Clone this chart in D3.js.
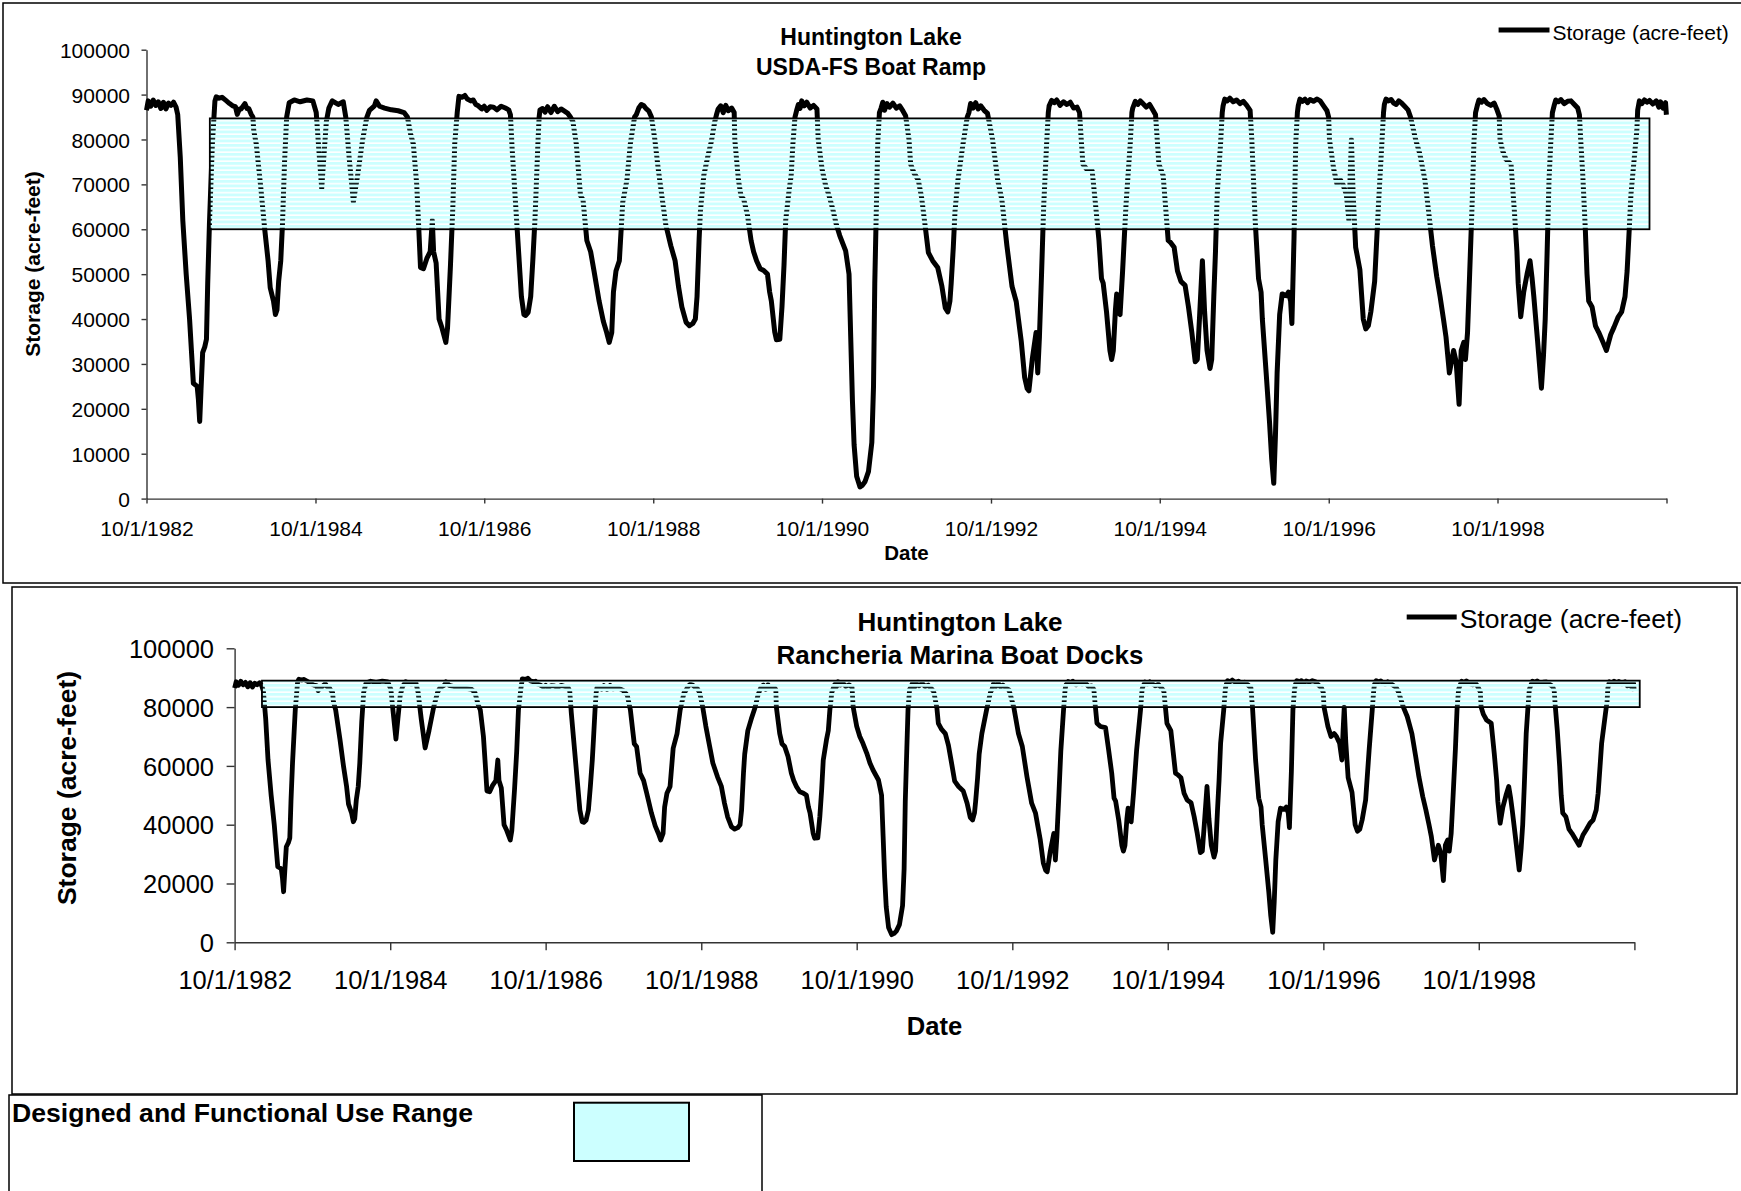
<!DOCTYPE html>
<html>
<head>
<meta charset="utf-8">
<script src="https://cdn.jsdelivr.net/npm/d3@7.9.0/dist/d3.min.js"></script>
<style>
  body { margin: 0; background: #fff; }
  svg { display: block; font-family: "Liberation Sans", Arial, sans-serif; }
</style>
</head>
<body>
<svg id="chart" width="1741" height="1191"></svg>
<script>
// Data: [years after 10/1/1982, storage in thousand acre-feet]

const wy1983 = [
  [0.000, 86.5], [0.02, 88.6], [0.05, 87.4], [0.08, 88.8], [0.11, 87.6], [0.14, 88.4], [0.17, 86.9],
  [0.20, 88.3], [0.23, 86.8], [0.26, 88.1], [0.29, 87.6], [0.32, 88.3], [0.35, 87.2], [0.37, 85.5],
  [0.40, 76], [0.43, 62], [0.47, 50], [0.51, 40], [0.535, 32], [0.555, 25.7], [0.60, 25], [0.615, 22],
  [0.63, 17.2], [0.645, 24], [0.665, 32.5], [0.69, 33.8], [0.71, 35.5], [0.725, 48], [0.745, 61],
  [0.78, 79], [0.81, 88.5]
];
const wy1984 = [
  [0.826, 89.5], [0.86, 89.2], [0.894, 89.4], [0.94, 88.7], [0.984, 88], [1.02, 87.5], [1.053, 87.3],
  [1.075, 85.6], [1.10, 86.8], [1.12, 86.8], [1.165, 88], [1.19, 86.9], [1.211, 86.9], [1.24, 85.6],
  [1.26, 85.0], [1.27, 82], [1.30, 79], [1.355, 69], [1.40, 60], [1.44, 53], [1.465, 47], [1.505, 43.9],
  [1.527, 41], [1.545, 42], [1.565, 48.4], [1.59, 53], [1.61, 61], [1.635, 75], [1.66, 85]
];
const wy1985 = [
  [1.69, 88.2], [1.75, 88.8], [1.82, 88.4], [1.90, 88.8], [1.97, 88.6], [2.01, 86], [2.04, 78],
  [2.075, 69.1], [2.10, 76], [2.13, 84], [2.16, 87], [2.20, 88.6], [2.27, 87.8], [2.33, 88.4],
  [2.36, 85], [2.40, 76], [2.45, 66.1], [2.50, 72], [2.56, 80], [2.61, 85], [2.64, 86.5], [2.70, 87.5],
  [2.72, 88.6], [2.76, 87.4], [2.82, 87], [2.90, 86.6], [2.98, 86.4], [3.05, 86], [3.09, 85]
];
const wy1986 = [
  [3.13, 81], [3.16, 79], [3.20, 70], [3.225, 60], [3.245, 51.5], [3.28, 51.2], [3.32, 53.5], [3.36, 55],
  [3.385, 62], [3.40, 55], [3.43, 52.5], [3.465, 40], [3.50, 38], [3.545, 34.8], [3.565, 38], [3.58, 44],
  [3.60, 52], [3.628, 65], [3.65, 79], [3.68, 86]
];
const wy1987 = [
  [3.70, 89.6], [3.74, 89.4], [3.77, 89.8], [3.80, 89], [3.84, 88.6], [3.87, 88.8], [3.90, 87.8],
  [3.93, 87.5], [3.97, 86.8], [4.00, 87.4], [4.03, 86.5], [4.07, 87.3], [4.11, 87.2], [4.15, 86.6],
  [4.20, 87.4], [4.25, 87], [4.29, 86.6], [4.31, 85.5], [4.33, 78], [4.36, 69], [4.40, 57], [4.44, 45],
  [4.47, 41], [4.49, 40.8], [4.52, 41.5], [4.55, 45], [4.575, 53], [4.60, 62], [4.615, 69], [4.635, 79],
  [4.65, 85]
];
const wy1988 = [
  [4.66, 86.6], [4.69, 86.9], [4.72, 86.1], [4.75, 87.3], [4.79, 86], [4.83, 87.4], [4.87, 86.2],
  [4.91, 86.8], [4.95, 86.3], [4.99, 85.8], [5.02, 85], [5.05, 84], [5.09, 79], [5.12, 72], [5.14, 67.5],
  [5.17, 66.5], [5.215, 57.5], [5.26, 55], [5.30, 50.7], [5.36, 44], [5.41, 39.5], [5.45, 37], [5.48, 34.8],
  [5.51, 37], [5.53, 46], [5.56, 50.7], [5.60, 53], [5.64, 66], [5.69, 71], [5.73, 79], [5.78, 85]
];
const wy1989 = [
  [5.80, 85.5], [5.83, 87], [5.86, 87.8], [5.89, 87.5], [5.92, 86.8], [5.95, 86.3], [5.98, 85],
  [6.02, 80], [6.06, 73.5], [6.11, 66.5], [6.15, 61], [6.21, 56.3], [6.26, 53], [6.30, 47.3], [6.34, 42.7],
  [6.39, 39.3], [6.43, 38.5], [6.47, 39], [6.50, 40], [6.52, 45], [6.545, 58], [6.56, 64], [6.60, 72],
  [6.645, 76], [6.69, 79.6], [6.73, 84], [6.75, 85.5]
];
const wy1990 = [
  [6.77, 86.8], [6.80, 87.5], [6.83, 86], [6.86, 87.6], [6.89, 86.4], [6.93, 87], [6.96, 86], [6.967, 80],
  [7.01, 71], [7.04, 67.5], [7.074, 66.6], [7.117, 63.2], [7.16, 57.5], [7.19, 55], [7.225, 53], [7.268, 51.2],
  [7.31, 50.8], [7.354, 50], [7.38, 46], [7.40, 44], [7.44, 37.1], [7.46, 35.4], [7.50, 35.5], [7.526, 42.7],
  [7.55, 52], [7.57, 62], [7.611, 68.8], [7.635, 72], [7.655, 79], [7.68, 85]
];
const wy1991 = [
  [7.70, 86.5], [7.72, 87.8], [7.74, 86.9], [7.76, 88.6], [7.79, 87.5], [7.82, 88.3], [7.86, 87],
  [7.90, 87.6], [7.94, 86.8], [7.955, 80], [8.00, 73.5], [8.04, 70], [8.08, 67.7], [8.13, 64.3], [8.17, 61],
  [8.21, 58.6], [8.28, 55.2], [8.32, 50], [8.34, 36], [8.36, 22], [8.38, 12], [8.41, 5], [8.45, 2.6],
  [8.48, 3], [8.51, 3.8], [8.55, 6], [8.59, 12.5], [8.61, 25], [8.625, 48], [8.645, 66], [8.66, 79], [8.68, 86]
];
const wy1992 = [
  [8.70, 87], [8.72, 88.3], [8.74, 86.5], [8.77, 88], [8.80, 87.2], [8.84, 88.1], [8.88, 87], [8.92, 87.5],
  [8.96, 86.3], [8.99, 85.3], [9.03, 80], [9.05, 74.5], [9.09, 72.5], [9.14, 71], [9.18, 67], [9.22, 61],
  [9.26, 54.8], [9.31, 53], [9.37, 51.5], [9.42, 47.3], [9.46, 42.5], [9.49, 41.6], [9.515, 44], [9.53, 48],
  [9.555, 56], [9.575, 64], [9.61, 71], [9.67, 79], [9.72, 85]
];
const wy1993 = [
  [9.74, 86], [9.76, 88], [9.79, 87], [9.82, 88.2], [9.85, 86.8], [9.88, 87.5], [9.92, 86.5], [9.96, 85.8],
  [10.02, 80], [10.04, 77], [10.08, 71], [10.13, 66.6], [10.19, 56.3], [10.25, 47.3], [10.30, 43.9],
  [10.36, 35], [10.40, 27], [10.43, 24.5], [10.45, 24], [10.49, 31], [10.535, 37], [10.555, 28], [10.575, 36],
  [10.60, 50], [10.625, 65], [10.66, 79], [10.68, 86]
];
const wy1994 = [
  [10.69, 87.5], [10.72, 88.7], [10.75, 88.2], [10.78, 88.8], [10.82, 87.6], [10.86, 88.4], [10.90, 87.8],
  [10.94, 88.3], [10.98, 87], [11.02, 87.2], [11.05, 86], [11.07, 80], [11.09, 74.5], [11.135, 73.4],
  [11.20, 73], [11.24, 65.4], [11.28, 57.5], [11.31, 49], [11.33, 48], [11.37, 41.5], [11.41, 33], [11.43, 31],
  [11.45, 33], [11.475, 42], [11.49, 45.6], [11.51, 41.5], [11.53, 41], [11.56, 50.7], [11.60, 65.4],
  [11.65, 79], [11.67, 86]
];
const wy1995 = [
  [11.68, 87], [11.71, 88.5], [11.74, 87.8], [11.77, 88.6], [11.80, 88], [11.84, 87.2], [11.88, 87.8],
  [11.92, 86.5], [11.95, 85.5], [11.97, 80], [11.99, 74.5], [12.04, 72], [12.10, 57.5], [12.13, 57],
  [12.17, 56], [12.21, 50.7], [12.25, 48.4], [12.30, 47.5], [12.34, 42.7], [12.38, 37], [12.42, 30.5],
  [12.445, 31], [12.47, 40], [12.505, 53], [12.53, 42], [12.56, 33], [12.595, 29], [12.615, 31], [12.64, 45],
  [12.66, 55], [12.68, 67.7], [12.72, 79], [12.74, 86]
];
const wy1996 = [
  [12.75, 87.5], [12.77, 89], [12.80, 88.6], [12.83, 89.2], [12.87, 88.4], [12.91, 88.8], [12.95, 88],
  [12.99, 88.5], [13.03, 87.6], [13.07, 86.5], [13.09, 80], [13.13, 62], [13.17, 49], [13.20, 46], [13.215, 40],
  [13.26, 28], [13.30, 17], [13.325, 9], [13.35, 3.4], [13.37, 14], [13.39, 28], [13.42, 41], [13.45, 45.6],
  [13.50, 45.2], [13.525, 46], [13.55, 44], [13.565, 39], [13.59, 58], [13.61, 79], [13.63, 86]
];
const wy1997 = [
  [13.64, 87.5], [13.66, 89], [13.69, 88.5], [13.72, 89], [13.75, 88.2], [13.78, 88.9], [13.82, 88.5],
  [13.86, 89], [13.90, 88.6], [13.94, 87.5], [13.98, 86.4], [14.00, 85], [14.01, 80], [14.06, 73.4],
  [14.10, 70], [14.14, 71], [14.17, 70], [14.21, 67.7], [14.24, 62], [14.255, 72], [14.27, 80], [14.29, 68],
  [14.32, 56], [14.37, 51], [14.41, 40], [14.44, 37.8], [14.47, 38.5], [14.50, 41.6], [14.545, 48.4],
  [14.59, 65.4], [14.63, 79], [14.65, 86]
];
const wy1998 = [
  [14.66, 87.8], [14.68, 89], [14.71, 88.6], [14.74, 88.9], [14.77, 88.1], [14.80, 87.8], [14.83, 88.6],
  [14.86, 88.2], [14.90, 87.4], [14.94, 86.6], [14.97, 85], [15.03, 80], [15.08, 76.8], [15.14, 71],
  [15.19, 63], [15.23, 56.3], [15.28, 49.5], [15.32, 45], [15.36, 40], [15.39, 36], [15.43, 28], [15.46, 31],
  [15.48, 33], [15.51, 30.5], [15.545, 21], [15.57, 33], [15.60, 34.8], [15.62, 31], [15.645, 37], [15.67, 50],
  [15.70, 66], [15.72, 79], [15.74, 86]
];
const wy1999 = [
  [15.76, 87.5], [15.78, 88.8], [15.81, 88.3], [15.84, 88.9], [15.88, 88], [15.92, 87.6], [15.96, 88.1],
  [15.99, 86.8], [16.02, 85.2], [16.03, 80], [16.06, 77.5], [16.10, 75.6], [16.16, 74.5], [16.20, 64],
  [16.23, 55], [16.245, 48], [16.275, 40.5], [16.31, 46], [16.35, 50], [16.385, 53], [16.41, 49], [16.43, 45],
  [16.475, 35], [16.52, 24.6], [16.545, 32], [16.565, 40], [16.585, 53], [16.61, 71], [16.63, 79], [16.65, 86]
];
const wy2000 = [
  [16.67, 87.5], [16.69, 88.8], [16.72, 88.4], [16.75, 88.9], [16.79, 88], [16.83, 88.5], [16.87, 88.6],
  [16.91, 87.8], [16.95, 87], [16.97, 85.5], [16.985, 80], [17.01, 72], [17.04, 60], [17.06, 50], [17.08, 44],
  [17.12, 42.7], [17.16, 38.5], [17.20, 37], [17.25, 34.8], [17.29, 33], [17.34, 36.5], [17.38, 38.2],
  [17.43, 40.5], [17.47, 41.6], [17.51, 45], [17.535, 50.7], [17.56, 60], [17.58, 67.7], [17.63, 78],
  [17.65, 82], [17.66, 86.5], [17.68, 88.6], [17.71, 88], [17.74, 88.8], [17.77, 88.3], [17.80, 88.7],
  [17.84, 87.9], [17.88, 88.6], [17.91, 87.2], [17.93, 88.4], [17.96, 87], [17.99, 88.2], [18.0, 85.5]
];

// axis ticks
const tickYears = [1982, 1984, 1986, 1988, 1990, 1992, 1994, 1996, 1998, 2000];
const tickLabels = ["10/1/1982", "10/1/1984", "10/1/1986", "10/1/1988", "10/1/1990",
                    "10/1/1992", "10/1/1994", "10/1/1996", "10/1/1998", ""];
const rampYTicks = [0, 10000, 20000, 30000, 40000, 50000, 60000, 70000, 80000, 90000, 100000];
const marinaYTicks = [0, 20000, 40000, 60000, 80000, 100000];

// use range bands (years after 10/1/1982, acre-feet)
const rampBandYears = [0.75, 17.8];
const rampBandStorage = [60000, 84700];
const marinaBandYears = [0.352, 18.07];
const marinaBandStorage = [80000, 89000];

const startDate = new Date(1982, 9, 1);
const endDate = new Date(2000, 9, 1);

function toDate(yrs) {
  return new Date(startDate.getTime() + yrs * 365.25 * 864e5);
}

const storage = [].concat(wy1983, wy1984, wy1985, wy1986, wy1987, wy1988, wy1989, wy1990,
  wy1991, wy1992, wy1993, wy1994, wy1995, wy1996, wy1997, wy1998, wy1999, wy2000)
  .map(([yr, kaf]) => ({ date: toDate(yr), value: kaf * 1000 }));

const svg = d3.select("#chart");

// striped fill for the use range band, the line shows through the gaps
const pat = svg.append("defs").append("pattern")
  .attr("id", "stripes")
  .attr("patternUnits", "userSpaceOnUse")
  .attr("width", 8)
  .attr("height", 4.5);
pat.append("rect")
  .attr("width", 8)
  .attr("height", 2.9)
  .attr("fill", "#ccffff");

function renderChart(cfg) {
  const g = svg.append("g");

  g.append("rect")
    .attr("x", cfg.box[0]).attr("y", cfg.box[1])
    .attr("width", cfg.box[2] - cfg.box[0]).attr("height", cfg.box[3] - cfg.box[1])
    .attr("fill", "none").attr("stroke", "#000").attr("stroke-width", 1.5);

  const x = d3.scaleTime().domain([startDate, endDate]).range([cfg.left, cfg.right]);
  const y = d3.scaleLinear().domain([0, 100000]).range([cfg.bottom, cfg.top]);

  // axes
  const xAxis = d3.axisBottom(x)
    .tickValues(tickYears.map(yr => new Date(yr, 9, 1)))
    .tickFormat((d, i) => tickLabels[i])
    .tickSize(cfg.tickSize)
    .tickSizeOuter(0);
  const yAxis = d3.axisLeft(y)
    .tickValues(cfg.yTicks)
    .tickFormat(d3.format("d"))
    .tickSize(cfg.tickSize)
    .tickSizeOuter(0);

  const gx = g.append("g")
    .attr("transform", `translate(0,${cfg.bottom})`)
    .call(xAxis)
    .attr("font-family", null)
    .attr("font-size", cfg.fontSize);
  gx.selectAll("text").attr("y", cfg.xLabelBase - cfg.bottom).attr("dy", null).attr("fill", "#000");

  const gy = g.append("g")
    .attr("transform", `translate(${cfg.left},0)`)
    .call(yAxis)
    .attr("font-family", null)
    .attr("font-size", cfg.fontSize);
  gy.selectAll("text").attr("x", cfg.yLabelRight - cfg.left).attr("dy", "0.36em").attr("fill", "#000");

  [gx, gy].forEach(a => {
    a.selectAll("path, line").attr("stroke", "#333").attr("stroke-width", 1.4);
  });

  // storage line
  const line = d3.line()
    .x(d => x(d.date))
    .y(d => y(d.value));

  g.append("path")
    .datum(storage)
    .attr("d", line)
    .attr("fill", "none")
    .attr("stroke", "#000")
    .attr("stroke-width", cfg.lineWidth)
    .attr("stroke-linejoin", "round");

  // design range band, drawn over the line
  const bx0 = x(toDate(cfg.bandYears[0]));
  const bx1 = x(toDate(cfg.bandYears[1]));
  g.append("rect")
    .attr("x", bx0)
    .attr("y", y(cfg.bandStorage[1]))
    .attr("width", bx1 - bx0)
    .attr("height", y(cfg.bandStorage[0]) - y(cfg.bandStorage[1]))
    .attr("fill", "url(#stripes)")
    .attr("stroke", "#000")
    .attr("stroke-width", 1.8);

  // titles
  cfg.title.forEach((t, i) => {
    g.append("text")
      .attr("x", cfg.titleX)
      .attr("y", cfg.titleBase[i])
      .attr("text-anchor", "middle")
      .attr("font-weight", "bold")
      .attr("font-size", cfg.titleSize)
      .text(t);
  });

  g.append("text")
    .attr("transform", `translate(${cfg.yTitle[0]},${cfg.yTitle[1]}) rotate(-90)`)
    .attr("text-anchor", "middle")
    .attr("dy", "0.36em")
    .attr("font-weight", "bold")
    .attr("font-size", cfg.axisTitleSize)
    .text("Storage (acre-feet)");

  g.append("text")
    .attr("x", (cfg.left + cfg.right) / 2)
    .attr("y", cfg.dateBase)
    .attr("text-anchor", "middle")
    .attr("font-weight", "bold")
    .attr("font-size", cfg.dateSize)
    .text("Date");

  // legend
  g.append("line")
    .attr("x1", cfg.legend[0]).attr("x2", cfg.legend[1])
    .attr("y1", cfg.legend[2]).attr("y2", cfg.legend[2])
    .attr("stroke", "#000").attr("stroke-width", cfg.lineWidth);
  g.append("text")
    .attr("x", cfg.legend[1] + 3)
    .attr("y", cfg.legend[3])
    .attr("font-size", cfg.legendSize)
    .text("Storage (acre-feet)");
}

renderChart({
  box: [3, 3, 1745, 583],
  left: 146.5, right: 1666.5, bottom: 498.6, top: 49.7,
  yTicks: rampYTicks, tickSize: 5, fontSize: 21,
  xLabelBase: 536, yLabelRight: 130,
  lineWidth: 5,
  bandYears: rampBandYears, bandStorage: rampBandStorage,
  title: ["Huntington Lake", "USDA-FS Boat Ramp"], titleX: 871, titleBase: [45, 75], titleSize: 23,
  yTitle: [32.5, 264], axisTitleSize: 21,
  dateBase: 560, dateSize: 20.5,
  legend: [1498.6, 1549.5, 30, 39.5], legendSize: 21
});

renderChart({
  box: [12, 587, 1737, 1094],
  left: 234.6, right: 1634.4, bottom: 942.3, top: 648.3,
  yTicks: marinaYTicks, tickSize: 8, fontSize: 25.5,
  xLabelBase: 989, yLabelRight: 214,
  lineWidth: 4.8,
  bandYears: marinaBandYears, bandStorage: marinaBandStorage,
  title: ["Huntington Lake", "Rancheria Marina Boat Docks"], titleX: 960, titleBase: [631, 664], titleSize: 26,
  yTitle: [66.6, 788], axisTitleSize: 26.5,
  dateBase: 1035, dateSize: 25.6,
  legend: [1406.7, 1456.7, 617, 628], legendSize: 26.5
});

// shared key for the band
const key = svg.append("g");
key.append("rect")
  .attr("x", 9).attr("y", 1095).attr("width", 753).attr("height", 110)
  .attr("fill", "none").attr("stroke", "#000").attr("stroke-width", 1.5);
key.append("text")
  .attr("x", 12).attr("y", 1122)
  .attr("font-weight", "bold").attr("font-size", 26.6)
  .text("Designed and Functional Use Range");
key.append("rect")
  .attr("x", 574).attr("y", 1102.7).attr("width", 115).attr("height", 58.3)
  .attr("fill", "#ccffff").attr("stroke", "#000").attr("stroke-width", 2);
</script>
</body>
</html>
